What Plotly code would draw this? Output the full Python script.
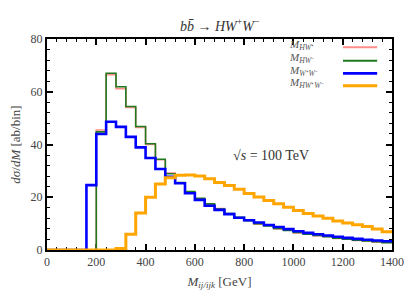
import plotly.graph_objects as go

bin_width = 40
n_bins = 35
edges = [i * bin_width for i in range(n_bins + 1)]

m_hwp = [0, 0, 0, 0, 0, 45.5, 66.5, 61.2, 54.0, 46.5, 40.0, 34.2, 29.2, 25.3, 22.0,
         19.4, 17.2, 15.7, 13.6, 12.1, 11.3, 9.8, 9.3, 8.0, 7.6, 6.5, 6.1, 5.4, 5.1,
         4.4, 4.2, 3.6, 3.4, 3.0, 2.9]
m_hwm = [0, 0, 0, 0, 0, 44.8, 67.0, 61.9, 54.4, 46.8, 40.3, 34.4, 28.9, 25.6, 22.2,
         19.6, 17.5, 15.5, 13.8, 12.4, 11.1, 10.0, 9.1, 8.2, 7.4, 6.7, 6.0, 5.5, 5.0,
         4.5, 4.1, 3.7, 3.4, 3.1, 2.8]
m_ww = [0, 0, 0, 0, 24.6, 44.0, 48.6, 46.7, 42.9, 38.9, 34.9, 30.7, 27.8, 25.3, 21.5,
        19.0, 16.8, 15.2, 13.6, 12.2, 11.3, 10.4, 9.5, 8.7, 7.9, 7.1, 6.5, 6.0, 5.5,
        5.0, 4.6, 4.2, 3.9, 3.6, 3.3]
m_hww = [0, 0, 0, 0, 0, 0, 0, 0.6, 6.0, 14.0, 20.0, 25.0, 27.4, 28.3, 28.4,
         28.1, 27.0, 25.6, 24.5, 23.0, 21.4, 20.1, 18.8, 17.5, 16.2, 15.0, 13.8, 12.9, 12.0,
         11.0, 10.2, 9.6, 8.9, 8.0, 6.9]

series = [
    ("<i>M</i><sub><i>HW</i>⁺</sub>", m_hwp, "#ff8c8c", 1.6),
    ("<i>M</i><sub><i>HW</i>⁻</sub>", m_hwm, "#1f7a1f", 1.6),
    ("<i>M</i><sub><i>W</i>⁺<i>W</i>⁻</sub>", m_ww, "#0000ff", 2.6),
    ("<i>M</i><sub><i>HW</i>⁺<i>W</i>⁻</sub>", m_hww, "#ffa500", 3.0),
]

FONT = "Liberation Serif"
fig = go.Figure()
for name, vals, col, w in series:
    fig.add_trace(go.Scatter(
        x=edges, y=vals + [vals[-1]], mode="lines", line_shape="hv",
        line=dict(color=col, width=w), name=name, showlegend=False))

# legend (text on left, sample line on right)
leg_y = [0.961, 0.897, 0.837, 0.779]
for (name, vals, col, w), yy in zip(series, leg_y):
    fig.add_annotation(x=0.695, y=yy + 0.012, xref="paper", yref="paper", text=name,
                       showarrow=False, xanchor="left", yanchor="middle",
                       font=dict(family=FONT, size=11, color="#555"))
    fig.add_shape(type="line", xref="paper", yref="paper", x0=0.858, x1=0.957,
                  y0=yy, y1=yy, line=dict(color=col, width=max(w, 2)))

fig.add_annotation(x=0.5, y=1.12, xref="paper", yref="paper",
                   text="<i>b</i><i>b̄</i> → <i>HW</i><sup>+</sup><i>W</i><sup>−</sup>",
                   showarrow=False, font=dict(family=FONT, size=14, color="#333"))
fig.add_annotation(x=0.765, y=0.45, xref="paper", yref="paper",
                   text="√<i>s</i> = 100 TeV", showarrow=False,
                   font=dict(family=FONT, size=14, color="#333"))

axis_common = dict(showline=True, linecolor="black", linewidth=2, mirror="allticks",
                   ticks="inside", tickcolor="black", tickwidth=1.5, ticklen=6,
                   showgrid=False, zeroline=False, layer="below traces", automargin=False,
                   tickfont=dict(family=FONT, size=12, color="#444"))
fig.update_xaxes(range=[0, 1400], dtick=200, tick0=0,
                 minor=dict(dtick=40, ticks="inside", ticklen=3, tickcolor="black", tickwidth=1.2),
                 title=dict(text="<i>M</i><sub><i>ij/ijk</i></sub> [GeV]",
                            font=dict(family=FONT, size=13, color="#444"), standoff=8),
                 **axis_common)
fig.update_yaxes(range=[0, 80], dtick=20, tick0=0,
                 minor=dict(dtick=4, ticks="inside", ticklen=3, tickcolor="black", tickwidth=1.2),
                 title=dict(text="<i>dσ</i>/<i>dM</i> [ab/bin]",
                            font=dict(family=FONT, size=13, color="#444"), standoff=10),
                 **axis_common)
# page body has an 8px margin, so the figure is sized to fill the 415x291 window
fig.update_layout(width=407, height=283, margin=dict(l=39, r=23, t=31, b=41),
                  plot_bgcolor="white", paper_bgcolor="white", showlegend=False)
fig.write_html("out.html")
